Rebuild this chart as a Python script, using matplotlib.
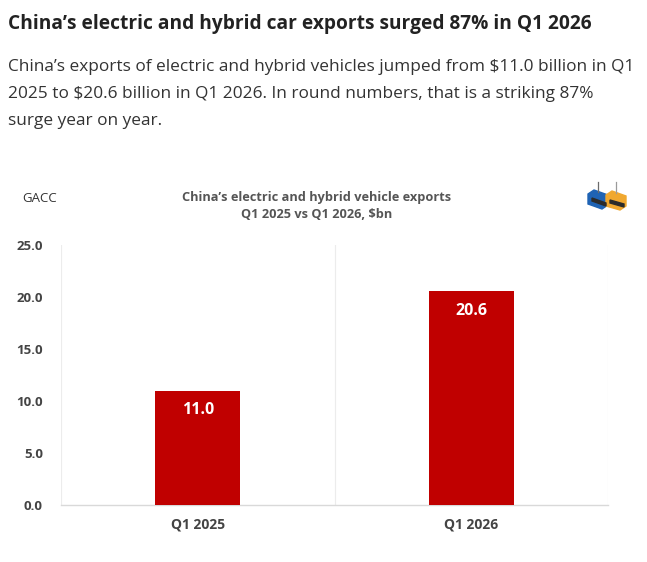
import matplotlib
matplotlib.use('agg')
import matplotlib.pyplot as plt
from matplotlib import patches

categories = ['Q1 2025', 'Q1 2026']
exports_bn = [11.0, 20.6]
yticks = [0, 5, 10, 15, 20, 25]

title = 'China\u2019s electric and hybrid car exports surged 87% in Q1 2026'
subtitle = ('China\u2019s exports of electric and hybrid vehicles jumped from $11.0 billion in Q1\n'
            '2025 to $20.6 billion in Q1 2026. In round numbers, that is a striking 87%\n'
            'surge year on year.')
chart_title = 'China\u2019s electric and hybrid vehicle exports\nQ1 2025 vs Q1 2026, $bn'
source = 'GACC'

plt.rcParams['font.family'] = ['Open Sans', 'DejaVu Sans']

W, H = 647, 562
fig = plt.figure(figsize=(W / 100, H / 100), dpi=100)
fig.patch.set_facecolor('white')

fig.text(8 / W, 1 - 24 / H, title, fontsize=13.8, fontweight='bold',
         color='#222222', va='center', ha='left')
fig.text(8 / W, 1 - 94 / H, subtitle, fontsize=12.4, color='#333333',
         va='center', ha='left', linespacing=1.9)

fig.text(22 / W, 1 - 198 / H, source, fontsize=9.5, color='#333333',
         va='center', ha='left')
fig.text(317 / W, 1 - 206 / H, chart_title, fontsize=9.2, fontweight='bold',
         color='#555555', va='center', ha='center', linespacing=1.3)

# small container icon at top right
icon = fig.add_axes([586 / W, 1 - 212 / H, 42 / W, 32 / H])
icon.set_xlim(0, 42)
icon.set_ylim(0, 32)
icon.axis('off')
icon.add_patch(patches.Polygon([[2, 8], [16, 3], [22, 7], [22, 17], [8, 22], [2, 18]],
                               closed=True, color='#1f63b4'))
icon.add_patch(patches.Polygon([[20, 6], [34, 2], [40, 6], [40, 16], [26, 21], [20, 17]],
                               closed=True, color='#f0a830'))
icon.add_patch(patches.Polygon([[6, 11], [20, 6], [20, 9], [6, 14]], closed=True, color='#2b2b2b'))
icon.add_patch(patches.Polygon([[24, 9], [38, 5], [38, 8], [24, 12]], closed=True, color='#2b2b2b'))
icon.plot([12, 12], [20, 30], color='#6b6b6b', lw=0.9)
icon.plot([30, 30], [19, 30], color='#9a9a9a', lw=0.9)

ax = fig.add_axes([61 / W, 1 - 505 / H, (608 - 61) / W, (505 - 245) / H])
x = list(range(len(categories)))
ax.bar(x, exports_bn, width=0.31, color='#c00000', zorder=3)
for xi, v in zip(x, exports_bn):
    ax.text(xi, v - 1.9, f'{v:.1f}', ha='center', va='center', color='white',
            fontsize=11.5, fontweight='bold', zorder=4)

ax.set_xlim(-0.5, len(categories) - 0.5)
ax.set_ylim(0, 25)
ax.set_yticks(yticks)
ax.set_yticklabels([f'{t:.1f}' for t in yticks])
ax.set_xticks(x)
ax.set_xticklabels(categories)
for b in [-0.5, 0.5, 1.5]:
    ax.axvline(b, color='#ececec', lw=0.8, zorder=1)

for s in ['top', 'right', 'left']:
    ax.spines[s].set_visible(False)
ax.spines['bottom'].set_color('#d9d9d9')
ax.spines['bottom'].set_linewidth(1.0)
ax.tick_params(axis='x', length=0, labelsize=10, colors='#444444', pad=9)
ax.tick_params(axis='y', length=0, labelsize=9.5, colors='#444444', pad=13)
for lab in ax.get_xticklabels() + ax.get_yticklabels():
    lab.set_fontweight('bold')

fig.savefig('out.png', dpi=100)
